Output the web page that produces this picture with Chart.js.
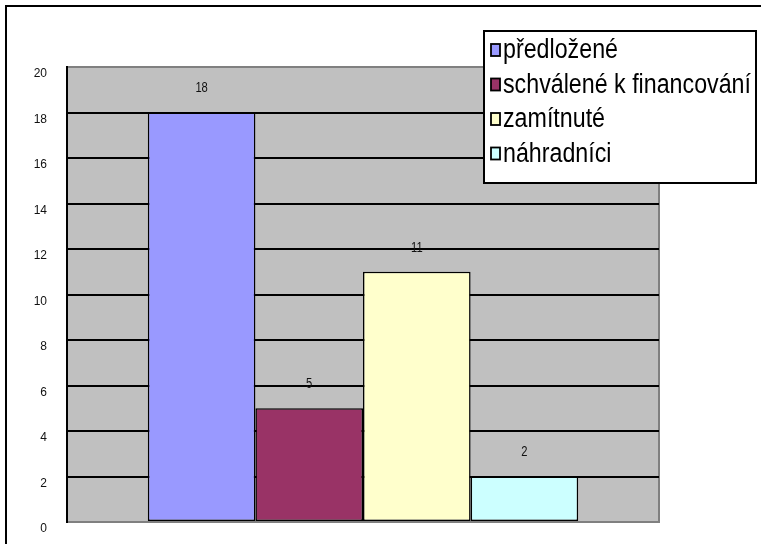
<!DOCTYPE html>
<html>
<head>
<meta charset="utf-8">
<script src="https://cdn.jsdelivr.net/npm/chart.js@4"></script>
<style>
  body { margin: 0; background: #fff; overflow: hidden; }
  #wrap { position: relative; width: 761px; height: 544px; }
  #frame { position: absolute; left: 5px; top: 5px; width: 800px; height: 600px;
           border-left: 2px solid #000; border-top: 2px solid #000; pointer-events: none; }
  canvas { position: absolute; left: 0; top: 0; }
</style>
</head>
<body>
<div id="wrap">
  <canvas id="myChart" width="761" height="544"></canvas>
  <div id="frame"></div>
</div>
<script>
// data
const seriesNames = ['předložené', 'schválené k financování', 'zamítnuté', 'náhradníci'];
const seriesValues = [18, 5, 11, 2];
const seriesColors = ['#9999ff', '#993366', '#ffffcc', '#ccffff'];
const yTicks = [0, 2, 4, 6, 8, 10, 12, 14, 16, 18, 20];

// gray plot area with gray frame, like old Excel charts
const plotBackground = {
    id: 'plotBackground',
    beforeDraw(chart) {
        const { ctx, chartArea: a } = chart;
        ctx.save();
        ctx.fillStyle = '#c0c0c0';
        ctx.fillRect(a.left, a.top, a.right - a.left, a.bottom - a.top);
        ctx.strokeStyle = '#808080';
        ctx.lineWidth = 2;
        ctx.beginPath();
        ctx.moveTo(a.left, a.top);
        ctx.lineTo(a.right, a.top);
        ctx.lineTo(a.right, a.bottom);
        ctx.lineTo(a.left, a.bottom);
        ctx.stroke();
        ctx.restore();
    }
};

// value above each bar
const valueLabels = {
    id: 'valueLabels',
    afterDatasetsDraw(chart) {
        const ctx = chart.ctx;
        ctx.save();
        ctx.fillStyle = '#111';
        ctx.font = '14px "Liberation Sans", Arial, sans-serif';
        ctx.textAlign = 'center';
        ctx.textBaseline = 'middle';
        chart.data.datasets.forEach((ds, i) => {
            chart.getDatasetMeta(i).data.forEach((bar, j) => {
                ctx.save();
                ctx.translate(bar.x, bar.y - 24);
                ctx.scale(0.8, 1);
                ctx.fillText(ds.data[j], 0, 0);
                ctx.restore();
            });
        });
        ctx.restore();
    }
};

// boxed legend overlapping the plot's top right corner
const boxLegend = {
    id: 'boxLegend',
    afterDraw(chart) {
        const ctx = chart.ctx;
        const box = { x: 484, y: 31, w: 272, h: 152 };
        ctx.save();
        ctx.fillStyle = '#fff';
        ctx.fillRect(box.x, box.y, box.w, box.h);
        ctx.strokeStyle = '#000';
        ctx.lineWidth = 2;
        ctx.strokeRect(box.x, box.y, box.w, box.h);

        ctx.font = '27px "Liberation Sans", Arial, sans-serif';
        const widest = Math.max(...chart.data.datasets.map(d => ctx.measureText(d.label).width));
        const sx = Math.min(1, 248 / widest);
        ctx.textBaseline = 'middle';
        chart.data.datasets.forEach((ds, i) => {
            const cy = 50 + i * 34.5;
            ctx.fillStyle = ds.backgroundColor;
            ctx.fillRect(491, cy - 6, 9, 12);
            ctx.lineWidth = 1.8;
            ctx.strokeStyle = '#000';
            ctx.strokeRect(491, cy - 6, 9, 12);
            ctx.save();
            ctx.translate(503, cy + 1);
            ctx.scale(sx, 1);
            ctx.fillStyle = '#000';
            ctx.fillText(ds.label, 0, 0);
            ctx.restore();
        });
        ctx.restore();
    }
};

const ctx = document.getElementById('myChart').getContext('2d');
const myChart = new Chart(ctx, {
    type: 'bar',
    data: {
        labels: [''],
        datasets: seriesNames.map((name, i) => ({
            label: name,
            data: [seriesValues[i]],
            backgroundColor: seriesColors[i],
            borderColor: '#000',
            borderWidth: 1.5,
            borderSkipped: false
        }))
    },
    options: {
        responsive: false,
        animation: false,
        layout: { padding: { top: 67, right: 102, bottom: 22, left: 0 } },
        datasets: { bar: { categoryPercentage: 0.727, barPercentage: 1 } },
        plugins: { legend: { display: false }, tooltip: { enabled: false } },
        scales: {
            x: { display: false },
            y: {
                min: 0,
                max: 20,
                afterBuildTicks: axis => { axis.ticks = yTicks.map(v => ({ value: v })); },
                afterFit: axis => {
                    axis.width = 67;
                    axis.paddingTop = 0;
                    axis.paddingBottom = 0;
                },
                border: { display: true, color: '#000', width: 2 },
                grid: {
                    drawTicks: false,
                    lineWidth: 2,
                    color: c => (c.tick && (c.tick.value === 0 || c.tick.value === 20)) ? 'rgba(0,0,0,0)' : '#000'
                },
                ticks: {
                    padding: 20,
                    labelOffset: 7,
                    color: '#111',
                    font: { family: '"Liberation Sans Narrow", "Liberation Sans", Arial, sans-serif', size: 12 }
                }
            }
        }
    },
    plugins: [plotBackground, valueLabels, boxLegend]
});
</script>
</body>
</html>
